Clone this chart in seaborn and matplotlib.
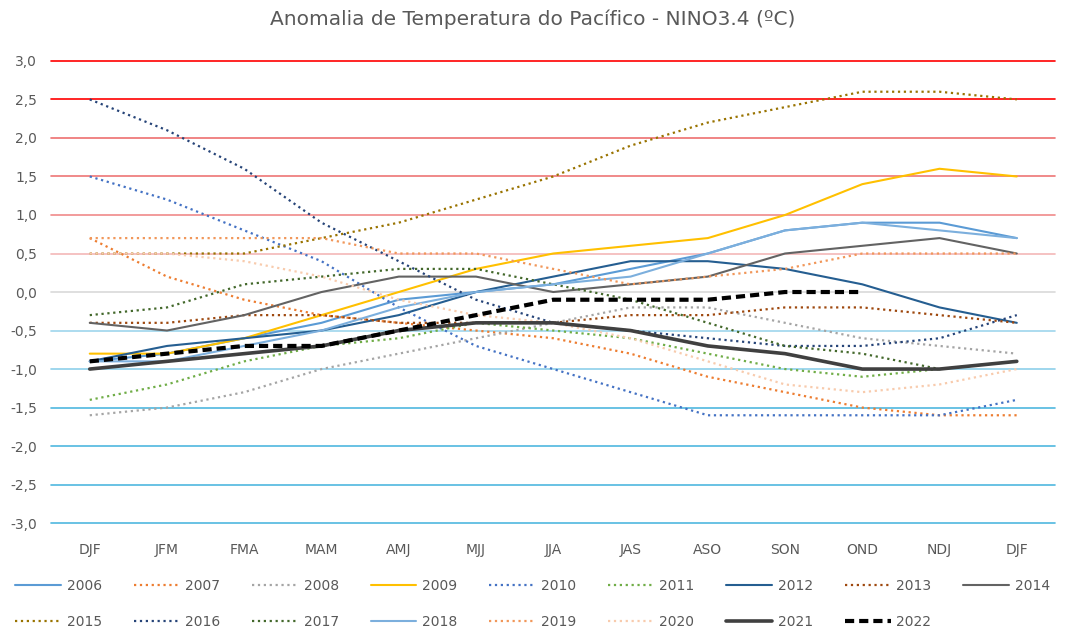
import numpy as np
import matplotlib.pyplot as plt
import pandas as pd
import seaborn as sns

# Seasons (3-month running means) and ONI values per year
seasons = ["DJF", "JFM", "FMA", "MAM", "AMJ", "MJJ", "JJA", "JAS", "ASO", "SON", "OND", "NDJ", "DJF"]

y2006 = [-0.9, -0.8, -0.6, -0.4, -0.1, 0.0, 0.1, 0.3, 0.5, 0.8, 0.9, 0.9, 0.7]
y2007 = [0.7, 0.2, -0.1, -0.3, -0.4, -0.5, -0.6, -0.8, -1.1, -1.3, -1.5, -1.6, -1.6]
y2008 = [-1.6, -1.5, -1.3, -1.0, -0.8, -0.6, -0.4, -0.2, -0.2, -0.4, -0.6, -0.7, -0.8]
y2009 = [-0.8, -0.8, -0.6, -0.3, 0.0, 0.3, 0.5, 0.6, 0.7, 1.0, 1.4, 1.6, 1.5]
y2010 = [1.5, 1.2, 0.8, 0.4, -0.2, -0.7, -1.0, -1.3, -1.6, -1.6, -1.6, -1.6, -1.4]
y2011 = [-1.4, -1.2, -0.9, -0.7, -0.6, -0.4, -0.5, -0.6, -0.8, -1.0, -1.1, -1.0, -0.9]
y2012 = [-0.9, -0.7, -0.6, -0.5, -0.3, 0.0, 0.2, 0.4, 0.4, 0.3, 0.1, -0.2, -0.4]
y2013 = [-0.4, -0.4, -0.3, -0.3, -0.4, -0.4, -0.4, -0.3, -0.3, -0.2, -0.2, -0.3, -0.4]
y2014 = [-0.4, -0.5, -0.3, 0.0, 0.2, 0.2, 0.0, 0.1, 0.2, 0.5, 0.6, 0.7, 0.5]
y2015 = [0.5, 0.5, 0.5, 0.7, 0.9, 1.2, 1.5, 1.9, 2.2, 2.4, 2.6, 2.6, 2.5]
y2016 = [2.5, 2.1, 1.6, 0.9, 0.4, -0.1, -0.4, -0.5, -0.6, -0.7, -0.7, -0.6, -0.3]
y2017 = [-0.3, -0.2, 0.1, 0.2, 0.3, 0.3, 0.1, -0.1, -0.4, -0.7, -0.8, -1.0, -0.9]
y2018 = [-0.9, -0.9, -0.7, -0.5, -0.2, 0.0, 0.1, 0.2, 0.5, 0.8, 0.9, 0.8, 0.7]
y2019 = [0.7, 0.7, 0.7, 0.7, 0.5, 0.5, 0.3, 0.1, 0.2, 0.3, 0.5, 0.5, 0.5]
y2020 = [0.5, 0.5, 0.4, 0.2, -0.1, -0.3, -0.4, -0.6, -0.9, -1.2, -1.3, -1.2, -1.0]
y2021 = [-1.0, -0.9, -0.8, -0.7, -0.5, -0.4, -0.4, -0.5, -0.7, -0.8, -1.0, -1.0, -0.9]
y2022 = [-0.9, -0.8, -0.7, -0.7, -0.5, -0.3, -0.1, -0.1, -0.1, 0.0, 0.0]

years = ["2006", "2007", "2008", "2009", "2010", "2011", "2012", "2013", "2014",
         "2015", "2016", "2017", "2018", "2019", "2020", "2021", "2022"]
values = [y2006, y2007, y2008, y2009, y2010, y2011, y2012, y2013, y2014,
          y2015, y2016, y2017, y2018, y2019, y2020, y2021, y2022]

# style per year: (colour, linestyle, linewidth)
styles = {
    "2006": ("#5B9BD5", "-", 1.5),
    "2007": ("#ED7D31", ":", 1.6),
    "2008": ("#A5A5A5", ":", 1.6),
    "2009": ("#FFC000", "-", 1.5),
    "2010": ("#4472C4", ":", 1.6),
    "2011": ("#70AD47", ":", 1.6),
    "2012": ("#255E91", "-", 1.5),
    "2013": ("#9E480E", ":", 1.6),
    "2014": ("#636363", "-", 1.5),
    "2015": ("#997300", ":", 1.6),
    "2016": ("#264478", ":", 1.6),
    "2017": ("#43682B", ":", 1.6),
    "2018": ("#7CAFDD", "-", 1.5),
    "2019": ("#F1975A", ":", 1.6),
    "2020": ("#F8CBAD", ":", 1.6),
    "2021": ("#404040", "-", 2.6),
    "2022": ("#000000", (0, (2.2, 1.2)), 3.0),
}

yticks = np.round(np.arange(-3.0, 3.01, 0.5), 1)
grid_colors = ["#4FB8DF", "#4FB8DF", "#4FB8DF", "#4FB8DF", "#8ED0EA", "#9ED6EC", "#D9D9D9",
               "#F4B8B8", "#F08A8A", "#EE7676", "#EE7070", "#FF0000", "#FF0000"]

sns.set_style("white")
plt.rcParams['font.family'] = ['DejaVu Sans']

fig = plt.figure(figsize=(10.65, 6.28), dpi=100)
ax = fig.add_axes([0.048, 0.167, 0.943, 0.736])

for yv, gc in zip(yticks, grid_colors):
    ax.axhline(yv, color=gc, lw=1.2, zorder=0, clip_on=False)

for yr, vals in zip(years, values):
    c, ls, lw = styles[yr]
    df = pd.DataFrame({"x": np.arange(len(vals)), "v": vals})
    sns.lineplot(data=df, x="x", y="v", ax=ax, color=c, linestyle=ls, linewidth=lw, label=yr)

ax.set_xlim(-0.5, 12.5)
ax.set_ylim(-3.0, 3.0)
ax.set_xticks(range(len(seasons)))
ax.set_xticklabels(seasons)
ax.set_yticks(yticks)
ax.set_yticklabels([f"{v:.1f}".replace(".", ",") for v in yticks])
ax.tick_params(axis="both", length=0, labelsize=10, colors="#595959")
ax.tick_params(axis="x", pad=14)
ax.tick_params(axis="y", pad=10)
ax.set_xlabel("")
ax.set_ylabel("")
for s in ax.spines.values():
    s.set_visible(False)

fig.suptitle("Anomalia de Temperatura do Pacífico - NINO3.4 (ºC)", y=0.985, fontsize=14.5, color="#595959")

# legend filled row by row (matplotlib fills by column)
handles, labels = ax.get_legend_handles_labels()
ax.get_legend().remove()
order = []
for i in range(8):
    order += [i, i + 9]
order.append(8)
fig.legend([handles[i] for i in order], [labels[i] for i in order],
           loc="upper center", bbox_to_anchor=(0.5, 0.098), ncol=9, frameon=False,
           fontsize=10, labelcolor="#595959", handlelength=3.3, handletextpad=0.4,
           columnspacing=2.3, labelspacing=1.6)

fig.savefig("out.png", dpi=100)
